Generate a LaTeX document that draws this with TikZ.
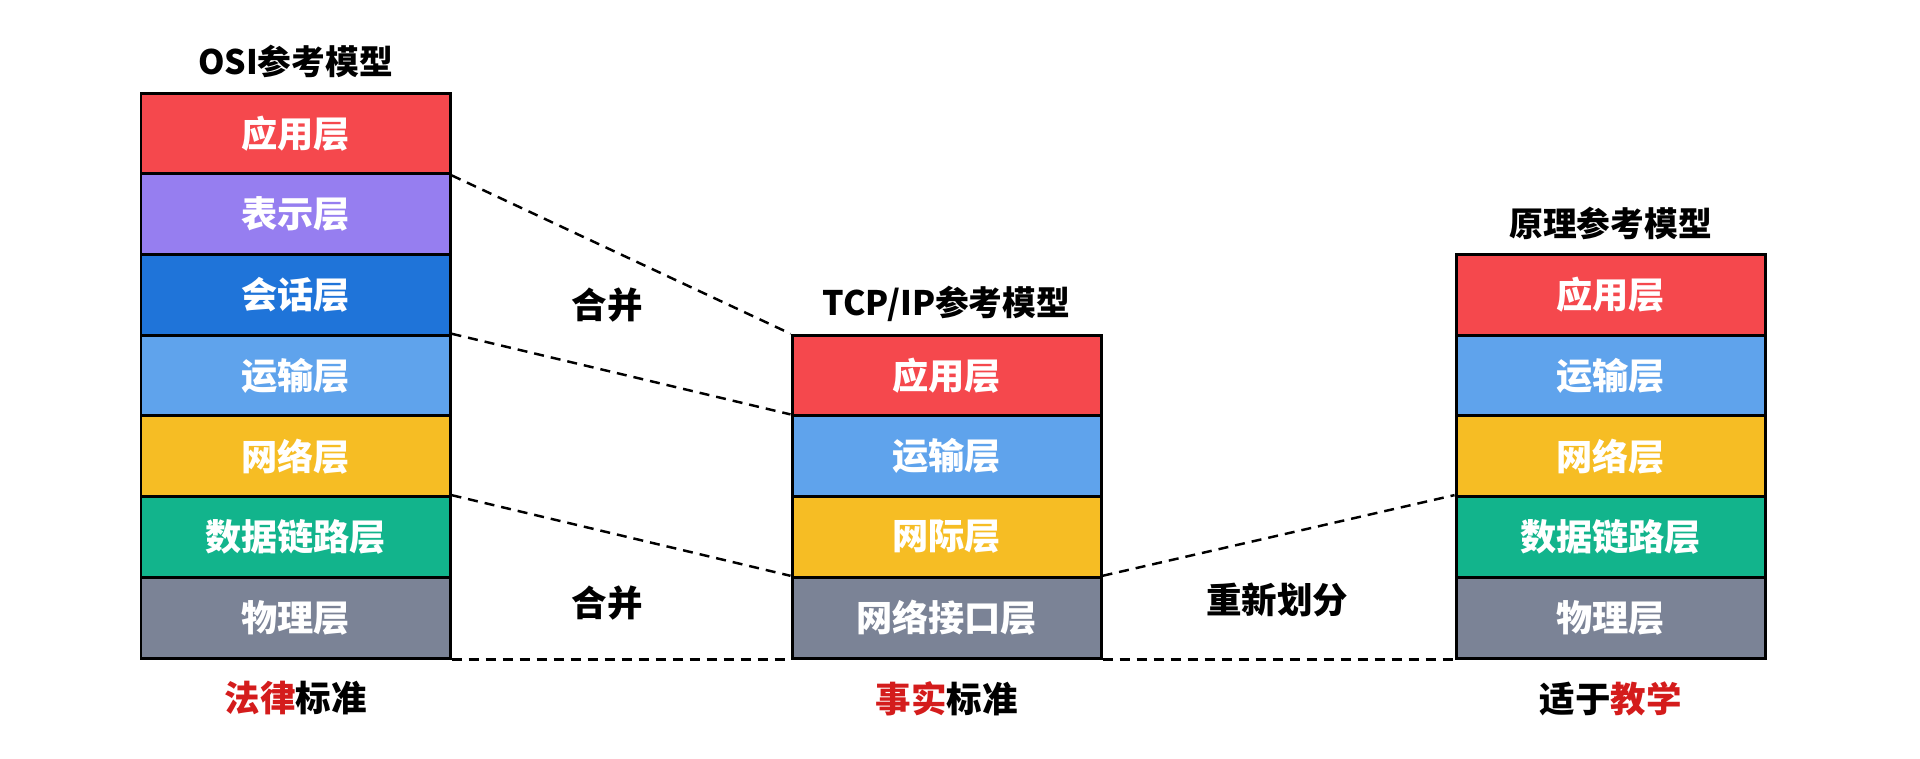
\documentclass[tikz,border=0pt]{standalone}
\usepackage{fontspec}
\setmainfont{Noto Sans CJK SC}
\usepackage{tikz}
\usetikzlibrary{positioning,calc}
\definecolor{LyRed}   {HTML}{F5484D}
\definecolor{LyPurple}{HTML}{967EF0}
\definecolor{LyNavy}  {HTML}{1F74D9}
\definecolor{LyBlue}  {HTML}{5FA3EC}
\definecolor{LyYellow}{HTML}{F6BD24}
\definecolor{LyGreen} {HTML}{12B48C}
\definecolor{LyGray}  {HTML}{7B8396}
\definecolor{LyMark}  {HTML}{D41C1C}

\begin{document}
\begin{tikzpicture}[
    layer/.style={draw=black,line width=0.85pt,minimum width=3.09cm,minimum height=0.807cm,
      inner sep=0pt,text=white,font=\fontsize{10.3}{12}\selectfont\bfseries},
    ttl/.style={font=\fontsize{9.6}{11}\selectfont\bfseries,text=black},
    capt/.style={font=\fontsize{10.1}{12}\selectfont\bfseries,text=black},
    merge/.style={black,line width=0.7pt,dash pattern=on 0.1cm off 0.07cm}
  ]
    \useasboundingbox (0,0) rectangle (19.2,7.58);
    % OSI stack
    \foreach \i/\lbl/\col in {
      1/物理层/LyGray,
      2/数据链路层/LyGreen,
      3/网络层/LyYellow,
      4/运输层/LyBlue,
      5/会话层/LyNavy,
      6/表示层/LyPurple,
      7/应用层/LyRed%
    }{
      \node[layer,fill=\col] (osi\i) at (2.955,{1.0+(\i-0.5)*0.807}) {\lbl};
    }
    % TCP/IP stack
    \foreach \i/\lbl/\col in {
      1/网络接口层/LyGray,
      2/网际层/LyYellow,
      3/运输层/LyBlue,
      4/应用层/LyRed%
    }{
      \node[layer,fill=\col] (tcp\i) at (9.465,{1.0+(\i-0.5)*0.807}) {\lbl};
    }
    % principle stack
    \foreach \i/\lbl/\col in {
      1/物理层/LyGray,
      2/数据链路层/LyGreen,
      3/网络层/LyYellow,
      4/运输层/LyBlue,
      5/应用层/LyRed%
    }{
      \node[layer,fill=\col] (prin\i) at (16.105,{1.0+(\i-0.5)*0.807}) {\lbl};
    }
    % titles and captions
    \node[ttl] (osiT)  at ($(osi7.north)+(0,0.30)$)  {OSI参考模型};
    \node[ttl] (tcpT)  at ($(tcp4.north)+(0,0.30)$)  {TCP/IP参考模型};
    \node[ttl] (prinT) at ($(prin5.north)+(0,0.30)$) {原理参考模型};
    \node[capt] (osiC)  at ($(osi1.south)+(0,-0.39)$)  {\textcolor{LyMark}{法律}标准};
    \node[capt] (tcpC)  at ($(tcp1.south)+(0,-0.39)$)  {\textcolor{LyMark}{事实}标准};
    \node[capt] (prinC) at ($(prin1.south)+(0,-0.39)$) {适于\textcolor{LyMark}{教学}};
    % mapping lines
    \draw[merge] (osi7.south east) -- (tcp4.north west);
    \draw[merge] (osi4.north east) -- (tcp3.north west);
    \draw[merge] (osi2.north east) -- (tcp1.north west);
    \draw[merge] (osi1.south east) -- (tcp1.south west);
    \draw[merge] (tcp1.north east) -- (prin2.north west);
    \draw[merge] (tcp1.south east) -- (prin1.south west);
    \node[capt] (merge1) at (6.07,4.53) {合并};
    \node[capt] (merge2) at (6.07,1.55) {合并};
    \node[capt] (redo)   at (12.77,1.58) {重新划分};
  \end{tikzpicture}
\end{document}
